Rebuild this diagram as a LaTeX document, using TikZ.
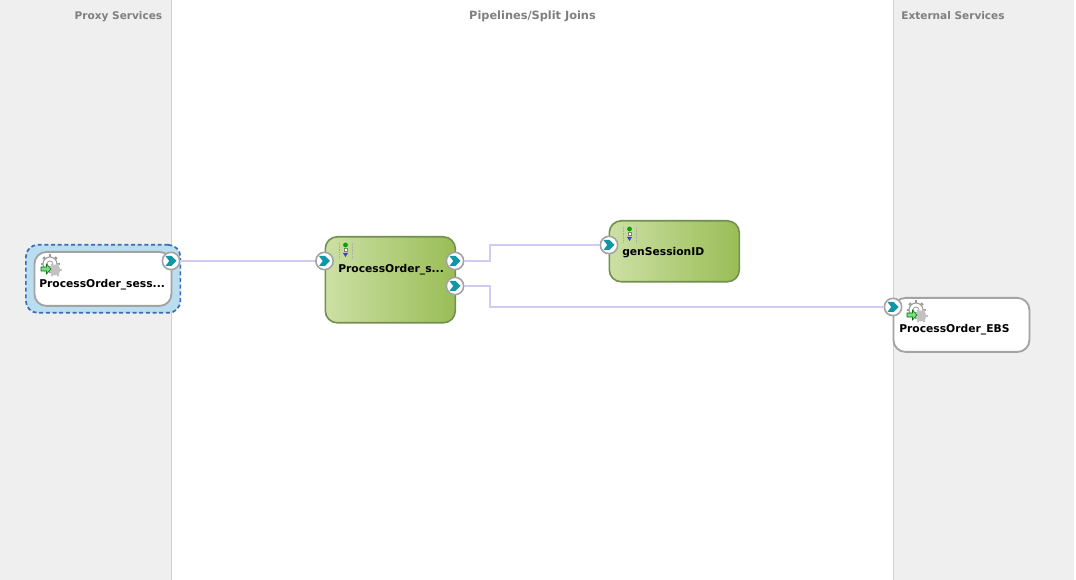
\documentclass[tikz,border=0pt]{standalone}
\usepackage{fontspec}
\setmainfont{DejaVu Sans}
\usetikzlibrary{calc}
\definecolor{panelgray}{HTML}{EFEFEF}
\definecolor{panelline}{HTML}{CFCFCF}
\definecolor{headtext}{HTML}{7F7F7F}
\definecolor{wirecol}{HTML}{CFCBF2}
\definecolor{boxgray}{HTML}{A3A3A3}
\definecolor{greenborder}{HTML}{728F4E}
\definecolor{greenlight}{HTML}{CCE0A4}
\definecolor{greendark}{HTML}{9ABD56}
\definecolor{selblue}{HTML}{BBDDF0}
\definecolor{seldash}{HTML}{3C6DB4}
\definecolor{teal}{HTML}{0F97A6}
\definecolor{gearcol}{HTML}{9A9A9A}
\definecolor{arrowgreen}{HTML}{7FD98A}
\tikzset{
  x=0.75pt,y=-0.75pt,
  panelhead/.style={font=\fontsize{7.9pt}{10pt}\selectfont\bfseries,text=headtext,inner sep=0pt,anchor=base},
  label/.style={font=\fontsize{8.05pt}{11pt}\selectfont\bfseries,text=black,inner sep=0pt,anchor=base west},
  svcbox/.style={draw=boxgray,line width=1.4pt,fill=white,rounded corners=9pt,inner sep=0pt,anchor=north west},
  flowbox/.style={draw=greenborder,line width=1.2pt,left color=greenlight,right color=greendark,rounded corners=9pt,inner sep=0pt,anchor=north west},
  portnode/.style={circle,draw=boxgray,line width=1.2pt,fill=white,minimum size=13pt,inner sep=0pt},
  wire/.style={draw=wirecol,line width=1.6pt},
  pics/chevron/.style={code={
    \fill[teal] (-5.5,-5) -- (0.5,-5) -- (5.5,0) -- (0.5,5) -- (-5.5,5) -- (-1.8,0) -- cycle;
  }},
  pics/gearicon/.style={code={
    \foreach \a in {0,45,...,315}{
      \draw[gearcol,line width=2pt] (\a:5) -- (\a:9.5);
    }
    \draw[gearcol,fill=white,line width=0.8pt] (0,0) circle[radius=7];
    \draw[gearcol,fill=white,line width=0.6pt] (0,0) circle[radius=3];
    \fill[gearcol!60] (5,6) circle[radius=5.5];
    \foreach \a in {0,60,...,300}{
      \draw[gearcol!60,line width=1.5pt] ($(5,6)+(\a:4)$) -- ($(5,6)+(\a:7)$);
    }
    \draw[green!45!black,fill=arrowgreen,line width=0.4pt] (-9,3) -- (-3.5,3) -- (-3.5,0) -- (1,5) -- (-3.5,10) -- (-3.5,7) -- (-9,7) -- cycle;
  }},
  pics/stageicon/.style={code={
    \draw[gray!70,densely dotted,line width=0.4pt] (-6,-7) -- (-6,9) (7,-7) -- (7,9);
    \fill[green!65!black] (0,-5) circle[radius=2.4];
    \draw[gray,fill=white,line width=0.4pt] (-1.7,-1.5) rectangle (1.7,1.5);
    \fill[blue!50!gray] (-2.5,3) -- (2.5,3) -- (0,7) -- cycle;
  }}
}
\begin{document}
\begin{tikzpicture}
\useasboundingbox (0,0) rectangle (1076,580);
\fill[white] (0,0) rectangle (1076,580);
\fill[panelgray] (0,0) rectangle (171.5,580);
\fill[panelgray] (893.5,0) rectangle (1074,580);
\draw[panelline,line width=0.75pt] (171.5,0) -- (171.5,580);
\draw[panelline,line width=0.75pt] (893.5,0) -- (893.5,580);
\node[panelhead] (h1) at (118.5,20) {Proxy Services};
\node[panelhead,font=\fontsize{8.5pt}{10pt}\selectfont\bfseries] (h2) at (532.5,20) {Pipelines/Split Joins};
\node[panelhead] (h3) at (953,20) {External Services};

% selection halo
\node[draw=seldash,densely dashed,line width=1.3pt,fill=selblue,rounded corners=9pt,inner sep=0pt,anchor=north west,minimum width=154.5pt*0.75,minimum height=68pt*0.75] (sel) at (25,244) {};

% boxes
\node[svcbox,minimum width=137pt*0.75,minimum height=54pt*0.75] (proxy) at (33.5,251) {};
\node[flowbox,minimum width=130pt*0.75,minimum height=86pt*0.75] (pipe) at (324.5,236) {};
\node[flowbox,minimum width=130pt*0.75,minimum height=61pt*0.75] (gen) at (608.5,220) {};
\node[svcbox,minimum width=136pt*0.75,minimum height=54pt*0.75] (ext) at (892.5,297) {};

% labels
\node[label] (lp) at (39,287.5) {ProcessOrder\_sess...};
\node[label] (lpi) at (338,273) {ProcessOrder\_s...};
\node[label] (lg) at (622,256) {genSessionID};
\node[label] (le) at (899,332.5) {ProcessOrder\_EBS};

% icons
\pic at (50,264) {gearicon};
\pic at (916,310) {gearicon};
\pic at (345.5,250) {stageicon};
\pic at (629.5,234) {stageicon};

% ports
\node[portnode] (p1) at (171,261) {};
\node[portnode] (p2) at (324.5,261) {};
\node[portnode] (p3) at (455,261) {};
\node[portnode] (p4) at (455,286) {};
\node[portnode] (p5) at (609,245) {};
\node[portnode] (p6) at (893,307) {};
\coordinate (b1) at (490,261);
\coordinate (b2) at (490,245);
\coordinate (b3) at (490,286);
\coordinate (b4) at (490,307);

% connectors
\draw[wire] (p1) -- (p2);
\draw[wire] (p3) -- (b1) -- (b2) -- (p5);
\draw[wire] (p4) -- (b3) -- (b4) -- (p6);

\foreach \n in {p1,p2,p3,p4,p5,p6}{
  \pic at (\n) {chevron};
}
\end{tikzpicture}
\end{document}
